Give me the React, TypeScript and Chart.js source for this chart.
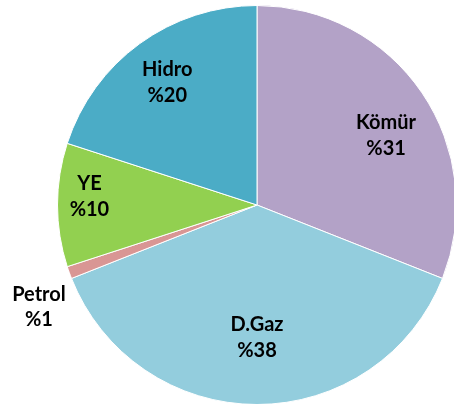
import React, { useEffect, useRef } from "react";
import { Chart, registerables } from "chart.js";

Chart.register(...registerables);

const categories = ["Kömür", "D.Gaz", "Petrol", "YE", "Hidro"];
const shares = [31, 38, 1, 10, 20];
const colors = ["#B3A2C7", "#93CDDD", "#D99694", "#92D050", "#4BACC6"];
// label anchor (first baseline) as fraction of radius from pie centre
const labelAnchors: [number, number][] = [
  [0.647, -0.379],
  [0, 0.633],
  [-1.093, 0.48],
  [-0.84, -0.075],
  [-0.45, -0.645],
];

const labelPlugin = {
  id: "sliceLabels",
  afterDatasetsDraw(chart: any) {
    const meta = chart.getDatasetMeta(0);
    const ctx = chart.ctx;
    ctx.save();
    ctx.font = "bold 20px Lato";
    ctx.fillStyle = "#000";
    ctx.textAlign = "center";
    ctx.textBaseline = "alphabetic";
    meta.data.forEach((arc: any, i: number) => {
      const r = arc.outerRadius;
      const [fx, fy] = labelAnchors[i];
      const x = arc.x + fx * r;
      const y = arc.y + fy * r;
      ctx.fillText(categories[i], x, y);
      ctx.fillText("%" + shares[i], x, y + 25.5);
    });
    ctx.restore();
  },
};

export default function App() {
  const ref = useRef<HTMLCanvasElement>(null);
  useEffect(() => {
    if (!ref.current) return;
    const chart = new Chart(ref.current, {
      type: "pie",
      data: {
        labels: categories,
        datasets: [
          {
            data: shares,
            backgroundColor: colors,
            borderColor: "#FFFFFF",
            borderWidth: 1,
          },
        ],
      },
      options: {
        responsive: false,
        animation: false,
        layout: { padding: { left: 57, right: 23, top: 5, bottom: 15 } },
        plugins: {
          legend: { display: false },
          tooltip: { enabled: false },
        },
      },
      plugins: [labelPlugin],
    });
    return () => chart.destroy();
  }, []);
  return (
    <div
      style={{
        position: "fixed",
        left: 0,
        top: 0,
        width: 454,
        height: 404,
        overflow: "hidden",
        background: "#fff",
      }}
    >
      <canvas ref={ref} width={480} height={420} style={{ display: "block" }} />
    </div>
  );
}
